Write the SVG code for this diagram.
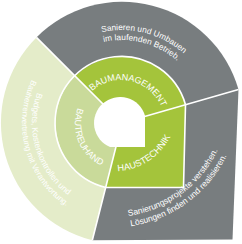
<svg xmlns="http://www.w3.org/2000/svg" width="242" height="244" viewBox="0 0 242 244">
<defs>
<style>
.gray{fill:#787d7f}
.lg{fill:#e4ecc9}
.mg{fill:#c9da9a}
.g{fill:#a4c43b}
.div{fill:none;stroke:#fff;stroke-width:1.6;stroke-linejoin:round}
text{font-family:"Liberation Sans",Arial,Helvetica,sans-serif;fill:#fff}
.in{font-size:9px}
.out{font-size:8.3px}
</style>
<path id="pTop1" d="M 82.0 39.1 A 93 93 0 0 1 197.7 69.0"/>
<path id="pTop2" d="M 86.3 48.1 A 83 83 0 0 1 189.6 74.8"/>
<path id="pLeft1" d="M 46.7 73.7 A 90 90 0 0 0 86.5 205.7"/>
<path id="pLeft2" d="M 39.8 66.1 A 100 100 0 0 0 80.2 213.9"/>
<path id="pBr1" d="M 84.3 213.7 A 117 117 0 0 0 228.8 107.5"/>
<path id="pBr2" d="M 81.8 223.9 A 127.5 127.5 0 0 0 239.2 108.2"/>
<path id="pBM" d="M 80.5 106.8 A 44 44 0 0 1 164.9 126.3"/>
<path id="pBT" d="M 96.6 85.0 A 46 46 0 0 0 130.6 169.0"/>
<path id="pHT" d="M 67.8 151.5 A 63.5 63.5 0 0 0 172.3 82.9"/>
</defs>

<g id="outer-top">
<path class="gray" d="M 122 123 L 36.4 37.4 A 121 121 0 0 1 238.5 89.6 Z"/>
</g>
<g id="outer-left">
<path class="lg" d="M 122 123 L 92.3 240.3 A 121 121 0 0 1 36.4 37.4 Z"/>
</g>
<g id="outer-bottom-right">
<path class="gray" d="M 122 123 L 238.5 89.6 L 232.5 239.5 L 92.3 240.3 Z"/>
</g>
<g id="inner-top">
<path class="g" d="M 122 123 L 75 76 A 66.5 66.5 0 0 1 185.5 104.7 Z"/>
</g>
<g id="inner-left">
<path class="mg" d="M 122 123 L 105.9 187.5 A 66.5 66.5 0 0 1 75 76 Z"/>
</g>
<g id="inner-bottom-right">
<path class="g" d="M 122 123 L 185.5 104.7 L 183.5 187.5 L 105.9 187.5 Z"/>
</g>

<g id="connectors">
<path class="div" d="M 105.9 187.5 A 66.5 66.5 0 1 1 185.5 104.7 L 183.5 187.5 Z"/>
<path class="div" d="M 122 123 L 36.4 37.4 M 122 123 L 238.5 89.6 M 122 123 L 92.3 240.3"/>
</g>

<g id="hole">
<path fill="#fff" d="M 145 115.8 L 145 147 L 110 147 A 26 26 0 1 1 145 115.8 Z"/>
</g>

<g id="labels">
<text class="out"><textPath href="#pTop1" startOffset="50%" text-anchor="middle">Sanieren und Umbauen</textPath><textPath href="#pTop2" startOffset="50%" text-anchor="middle">im laufenden Betrieb.</textPath></text>
<text class="in"><textPath href="#pBM" startOffset="50%" text-anchor="middle">BAUMANAGEMENT</textPath></text>
<text class="in"><textPath href="#pBT" startOffset="50%" text-anchor="middle">BAUTREUHAND</textPath></text>
<text class="in" style="font-size:9.2px"><textPath href="#pHT" startOffset="50%" text-anchor="middle">HAUSTECHNIK</textPath></text>
<text class="out"><textPath href="#pLeft1" startOffset="50%" text-anchor="middle" style="font-size:8.4px">Budgets, Kostenkontrollen und</textPath><textPath href="#pLeft2" startOffset="50%" text-anchor="middle" style="font-size:8px">Bauherrenvertretung mit Verantwortung.</textPath></text>
<text class="out" style="font-size:8.5px"><textPath href="#pBr1" startOffset="50%" text-anchor="middle">Sanierungsprojekte verstehen.</textPath><textPath href="#pBr2" startOffset="50%" text-anchor="middle">Lösungen finden und realisieren.</textPath></text>
</g>
</svg>
